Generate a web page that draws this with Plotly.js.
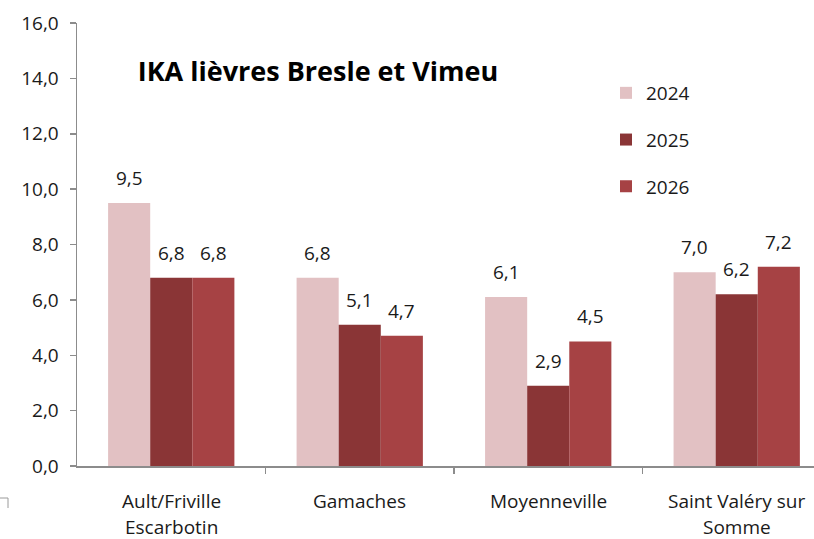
<!DOCTYPE html>
<html>
<head>
<meta charset="utf-8">
<script src="https://cdn.plot.ly/plotly-3.0.1.min.js"></script>
<style>html,body{margin:0;padding:0;background:#fff;}#chart{width:814px;height:539px;}</style>
</head>
<body>
<div id="chart"></div>
<script>
// ---- data ----
const categories = ["Ault/Friville<br>Escarbotin", "Gamaches", "Moyenneville", "Saint Valéry sur<br>Somme"];
const seriesNames = ["2024", "2025", "2026"];
const values2024 = [9.5, 6.8, 6.1, 7.0];
const values2025 = [6.8, 5.1, 2.9, 6.2];
const values2026 = [6.8, 4.7, 4.5, 7.2];
const yTickVals = [0, 2, 4, 6, 8, 10, 12, 14, 16];
const titleText = "IKA lièvres Bresle et Vimeu";

// ---- style ----
const colors = ["#E2C1C3", "#8A3536", "#A64244"];
const FONT = "Open Sans, Liberation Sans, sans-serif";
const FS = 19;
const bargap = 0.33;
const allSeries = [values2024, values2025, values2026];
const fmt = v => v.toFixed(1).replace('.', ',');

const traces = allSeries.map((vals, j) => ({
  type: 'bar',
  name: seriesNames[j],
  x: categories.map((c, i) => i),
  y: vals,
  marker: {color: colors[j], line: {width: 0}},
  legendgroup: 'g' + j,
  hoverinfo: 'none'
}));

const annotations = [];
const w = (1 - bargap) / 3;
allSeries.forEach((vals, j) => {
  vals.forEach((v, i) => {
    annotations.push({
      x: i + (j - 1) * w, y: v, xref: 'x', yref: 'y',
      text: fmt(v), showarrow: false, yanchor: 'bottom', yshift: 10,
      font: {family: FONT, size: FS, color: '#1a1a1a'}
    });
  });
});
categories.forEach((c, i) => {
  c.split('<br>').forEach((line, k) => {
    annotations.push({
      x: i, y: 0, xref: 'x', yref: 'paper',
      text: line, showarrow: false, yanchor: 'top', borderpad: 0,
      yshift: -21 - 26 * k,
      font: {family: FONT, size: FS, color: '#1a1a1a'}
    });
  });
});

const layout = {
  width: 814, height: 539,
  margin: {l: 77, r: 0, t: 23, b: 73, pad: 0},
  paper_bgcolor: '#fff', plot_bgcolor: '#fff',
  separators: ', ',
  font: {family: FONT, size: FS, color: '#1a1a1a'},
  title: {
    text: '<b>' + titleText + '</b>',
    xref: 'paper', x: (318 - 77) / 737, xanchor: 'center',
    yref: 'container', y: 1 - 72 / 539, yanchor: 'middle',
    font: {family: FONT, size: 27, color: '#000'}
  },
  barmode: 'group', bargap: bargap, bargroupgap: 0,
  xaxis: {
    type: 'linear', range: [-0.5, 3.41], showgrid: false, zeroline: false,
    showline: true, linecolor: '#8c8c8c', linewidth: 1.5,
    tickmode: 'array', tickvals: [0.5, 1.5, 2.5], ticktext: ['', '', ''],
    ticks: 'outside', ticklen: 6, tickcolor: '#8c8c8c', tickwidth: 1.5,
    showticklabels: false, fixedrange: true
  },
  yaxis: {
    range: [0, 16], tickvals: yTickVals, tickformat: '.1f',
    showgrid: false, zeroline: false,
    showline: true, linecolor: '#8c8c8c', linewidth: 1.5,
    ticks: 'outside', ticklen: 6, tickcolor: '#8c8c8c', tickwidth: 1.5,
    ticklabelstandoff: 7,
    tickfont: {family: FONT, size: FS, color: '#1a1a1a'}, fixedrange: true
  },
  showlegend: true,
  legend: {
    x: (606 - 77) / 737, xanchor: 'left', y: 1 - (74 - 23) / 443, yanchor: 'top',
    font: {family: FONT, size: FS, color: '#1a1a1a'},
    tracegroupgap: 19, bgcolor: 'rgba(0,0,0,0)', traceorder: 'grouped'
  },
  annotations: annotations,
  shapes: [{
    type: 'path', xref: 'paper', yref: 'paper',
    path: 'M ' + (-77 / 737) + ' ' + (-32 / 443) + ' L ' + (-69 / 737) + ' ' + (-32 / 443) + ' L ' + (-69 / 737) + ' ' + (-42 / 443),
    line: {color: '#9a9a9a', width: 1}
  }]
};

Plotly.newPlot('chart', traces, layout, {displayModeBar: false, staticPlot: true});
</script>
</body>
</html>
